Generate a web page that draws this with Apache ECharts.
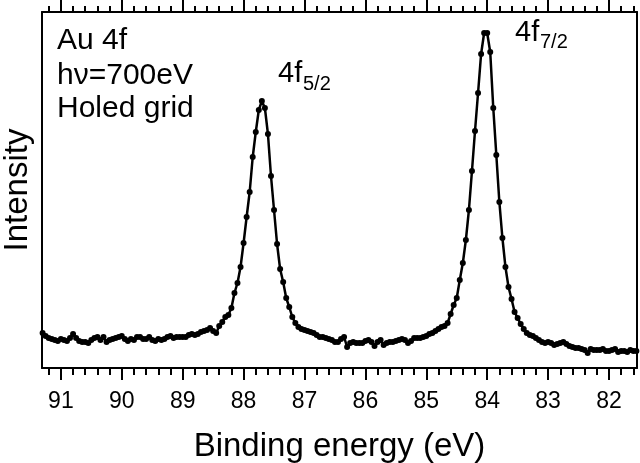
<!DOCTYPE html>
<html>
<head>
<meta charset="utf-8">
<script src="https://cdn.jsdelivr.net/npm/echarts@6/dist/echarts.min.js"></script>
<style>
  html, body { margin: 0; padding: 0; background: #fff; }
  #chart { width: 640px; height: 463px; }
</style>
</head>
<body>
<div id="chart"></div>
<script>
// binding energy (eV), 0.05 eV steps
const energy = [
  91.30, 91.25, 91.20, 91.15, 91.10, 91.05, 91.00, 90.95, 90.90, 90.85,
  90.80, 90.75, 90.70, 90.65, 90.60, 90.55, 90.50, 90.45, 90.40, 90.35,
  90.30, 90.25, 90.20, 90.15, 90.10, 90.05, 90.00, 89.95, 89.90, 89.85,
  89.80, 89.75, 89.70, 89.65, 89.60, 89.55, 89.50, 89.45, 89.40, 89.35,
  89.30, 89.25, 89.20, 89.15, 89.10, 89.05, 89.00, 88.95, 88.90, 88.85,
  88.80, 88.75, 88.70, 88.65, 88.60, 88.55, 88.50, 88.45, 88.40, 88.35,
  88.30, 88.25, 88.20, 88.15, 88.10, 88.05, 88.00, 87.95, 87.90, 87.85,
  87.80, 87.75, 87.70, 87.65, 87.60, 87.55, 87.50, 87.45, 87.40, 87.35,
  87.30, 87.25, 87.20, 87.15, 87.10, 87.05, 87.00, 86.95, 86.90, 86.85,
  86.80, 86.75, 86.70, 86.65, 86.60, 86.55, 86.50, 86.45, 86.40, 86.35,
  86.30, 86.25, 86.20, 86.15, 86.10, 86.05, 86.00, 85.95, 85.90, 85.85,
  85.80, 85.75, 85.70, 85.65, 85.60, 85.55, 85.50, 85.45, 85.40, 85.35,
  85.30, 85.25, 85.20, 85.15, 85.10, 85.05, 85.00, 84.95, 84.90, 84.85,
  84.80, 84.75, 84.70, 84.65, 84.60, 84.55, 84.50, 84.45, 84.40, 84.35,
  84.30, 84.25, 84.20, 84.15, 84.10, 84.05, 84.00, 83.95, 83.90, 83.85,
  83.80, 83.75, 83.70, 83.65, 83.60, 83.55, 83.50, 83.45, 83.40, 83.35,
  83.30, 83.25, 83.20, 83.15, 83.10, 83.05, 83.00, 82.95, 82.90, 82.85,
  82.80, 82.75, 82.70, 82.65, 82.60, 82.55, 82.50, 82.45, 82.40, 82.35,
  82.30, 82.25, 82.20, 82.15, 82.10, 82.05, 82.00, 81.95, 81.90, 81.85,
  81.80, 81.75, 81.70, 81.65, 81.60, 81.55
];

// intensity (arb. units)
const intensity = [
  35, 32, 30, 29, 28, 27, 29, 28, 27, 30,
  34, 30, 27, 26, 26, 25, 28, 30, 31, 28,
  31, 26, 28, 29, 30, 31, 32, 29, 27, 29,
  28, 31, 31, 29, 29, 31, 28, 27, 29, 28,
  29, 31, 32, 30, 31, 31, 31, 31, 33, 34,
  33, 34, 36, 37, 38, 40, 37, 35, 42, 46,
  51, 53, 60, 75, 85, 101, 125, 151, 176, 211,
  236, 258, 267, 260, 234, 192, 158, 124, 99, 86,
  70, 61, 51, 45, 41, 39, 38, 37, 36, 35,
  33, 31, 31, 30, 29, 28, 26, 26, 29, 31,
  21, 25, 26, 25, 25, 25, 27, 28, 26, 22,
  26, 28, 23, 25, 26, 26, 27, 28, 29, 28,
  25, 27, 30, 30, 30, 31, 32, 34, 35, 37,
  39, 41, 42, 45, 54, 63, 70, 88, 105, 128,
  158, 197, 237, 275, 314, 335, 335, 316, 260, 213,
  166, 130, 101, 81, 69, 56, 50, 44, 39, 35,
  33, 32, 30, 28, 26, 25, 26, 25, 23, 24,
  25, 26, 24, 22, 21, 20, 20, 19, 18, 15,
  19, 18, 18, 18, 19, 17, 17, 18, 19, 16,
  17, 17, 16, 18, 17, 17
];

const majorTicks = [82, 83, 84, 85, 86, 87, 88, 89, 90, 91];

// minor ticks every 0.2 eV
const minorTicks = [];
for (let k = 408; k <= 456; k++) {
  if (k % 5 !== 0) minorTicks.push(Math.round(k * 20) / 100);
}

const FONT = '"Liberation Sans", Arial, Helvetica, sans-serif';
const X_MIN = 81.54, X_MAX = 91.31;

const chart = echarts.init(document.getElementById('chart'));

function xAx(pos, ticks, len, withLine, withLabel) {
  return {
    type: 'value',
    position: pos,
    min: X_MIN,
    max: X_MAX,
    inverse: true,
    axisLine: { show: withLine, lineStyle: { color: '#000', width: 2 } },
    axisTick: {
      show: true, inside: false, length: len, customValues: ticks,
      lineStyle: { color: '#000', width: 2 }
    },
    axisLabel: withLabel ? {
      show: true, customValues: majorTicks, color: '#000',
      fontSize: 23, fontFamily: FONT, margin: 22
    } : { show: false },
    splitLine: { show: false }
  };
}

const bottomAxis = xAx('bottom', majorTicks, 12, true, true);
bottomAxis.name = 'Binding energy (eV)';
bottomAxis.nameLocation = 'middle';
bottomAxis.nameGap = 62;
bottomAxis.nameTextStyle = { color: '#000', fontSize: 33, fontFamily: FONT };

chart.setOption({
  animation: false,
  backgroundColor: '#fff',
  grid: { left: 42, right: 3, top: 12, bottom: 95, containLabel: false, outerBoundsMode: 'none' },
  xAxis: [
    bottomAxis,
    xAx('bottom', minorTicks, 7, false, false),
    xAx('top', majorTicks, 12, true, false),
    xAx('top', minorTicks, 6, false, false)
  ],
  yAxis: [
    {
      type: 'value', min: 0, max: 356,
      axisLine: { show: true, lineStyle: { color: '#000', width: 2 } },
      axisTick: { show: false }, axisLabel: { show: false },
      splitLine: { show: false },
      name: 'Intensity', nameLocation: 'middle', nameGap: 8,
      nameTextStyle: { color: '#000', fontSize: 33, fontFamily: FONT }
    },
    {
      type: 'value', min: 0, max: 356, position: 'right',
      axisLine: { show: true, lineStyle: { color: '#000', width: 2 } },
      axisTick: { show: false }, axisLabel: { show: false },
      splitLine: { show: false }
    }
  ],
  series: [{
    type: 'line',
    xAxisIndex: 0,
    yAxisIndex: 0,
    data: energy.map((e, i) => [e, intensity[i]]),
    symbol: 'circle',
    symbolSize: 6,
    showAllSymbol: true,
    itemStyle: { color: '#000' },
    lineStyle: { color: '#000', width: 2.5 }
  }],
  graphic: [
    { type: 'text', x: 57, y: 41, style: { text: 'Au 4f', font: '30px ' + FONT, fill: '#000', verticalAlign: 'middle' } },
    { type: 'text', x: 57, y: 76, style: { text: 'hν=700eV', font: '30px ' + FONT, fill: '#000', verticalAlign: 'middle' } },
    { type: 'text', x: 57, y: 109, style: { text: 'Holed grid', font: '30px ' + FONT, fill: '#000', verticalAlign: 'middle' } },
    { type: 'text', x: 278, y: 74, style: { text: '4f', font: '29px ' + FONT, fill: '#000', verticalAlign: 'middle' } },
    { type: 'text', x: 303, y: 84, style: { text: '5/2', font: '20px ' + FONT, fill: '#000', verticalAlign: 'middle' } },
    { type: 'text', x: 515, y: 33, style: { text: '4f', font: '29px ' + FONT, fill: '#000', verticalAlign: 'middle' } },
    { type: 'text', x: 540, y: 42, style: { text: '7/2', font: '20px ' + FONT, fill: '#000', verticalAlign: 'middle' } }
  ]
});
</script>
</body>
</html>
